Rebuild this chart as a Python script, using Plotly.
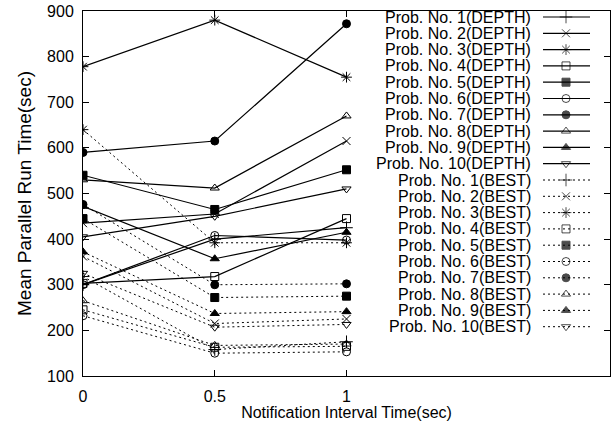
import plotly.graph_objects as go

# ---- data ----
x_vals = [0, 0.5, 1]
x_ticks = [0, 0.5, 1]
y_ticks = [100, 200, 300, 400, 500, 600, 700, 800, 900]

depth_names = [f"Prob. No. {i}(DEPTH)" for i in range(1, 11)]
best_names = [f"Prob. No. {i}(BEST)" for i in range(1, 11)]

depth_1 = [300, 400, 425]
depth_2 = [435, 455, 615]
depth_3 = [778, 880, 755]
depth_4 = [303, 318, 445]
depth_5 = [540, 465, 552]
depth_6 = [300, 408, 398]
depth_7 = [590, 615, 872]
depth_8 = [530, 512, 670]
depth_9 = [472, 357, 415]
depth_10 = [405, 450, 510]

best_1 = [318, 158, 175]
best_2 = [362, 215, 225]
best_3 = [640, 392, 392]
best_4 = [245, 163, 165]
best_5 = [445, 272, 275]
best_6 = [232, 150, 153]
best_7 = [476, 300, 302]
best_8 = [265, 167, 170]
best_9 = [372, 237, 241]
best_10 = [325, 207, 213]

depth_series = [depth_1, depth_2, depth_3, depth_4, depth_5,
                depth_6, depth_7, depth_8, depth_9, depth_10]
best_series = [best_1, best_2, best_3, best_4, best_5,
               best_6, best_7, best_8, best_9, best_10]

# ---- styles ----
symbols = ["cross-thin-open", "x-thin-open", "asterisk-open", "square-open", "square",
           "circle-open", "circle", "triangle-up-open", "triangle-up", "triangle-down-open"]
sizes = [9, 8, 9, 8, 8, 8, 8, 8, 8, 8]
FONT = "Liberation Sans, Arial, Helvetica, sans-serif"
BEST_DASH = "2px,3px"

fig = go.Figure()

def add_series(vals, sym, size, dash, width):
    fig.add_trace(go.Scatter(
        x=x_vals, y=vals, mode="lines+markers", showlegend=False,
        line=dict(color="black", width=width, dash=dash),
        marker=dict(symbol=sym, size=size, color="black",
                    line=dict(color="black", width=1)),
        xaxis="x", yaxis="y"))

for i, vals in enumerate(depth_series):
    add_series(vals, symbols[i], sizes[i], "solid", 1.2)
for i, vals in enumerate(best_series):
    add_series(vals, symbols[i], sizes[i], BEST_DASH, 1)

# ---- custom gnuplot-style legend (text on left, sample on right) ----
LEG_TEXT_RIGHT = 450      # in legend-axis units (px from plot left)
LEG_SAMPLE = [460, 483, 507]
LEG_TOP = 6
LEG_ROW = 16.3

names = depth_names + best_names
annotations = []
for k, name in enumerate(names):
    i = k % 10
    is_best = k >= 10
    yy = LEG_TOP + k * LEG_ROW
    fig.add_trace(go.Scatter(
        x=LEG_SAMPLE, y=[yy] * 3, mode="lines+markers", showlegend=False,
        line=dict(color="black", width=1 if is_best else 1.2,
                  dash=BEST_DASH if is_best else "solid"),
        marker=dict(symbol=symbols[i], size=[0, sizes[i], 0], color="black",
                    line=dict(color="black", width=1)),
        xaxis="x2", yaxis="y2", hoverinfo="skip"))
    annotations.append(dict(
        x=LEG_TEXT_RIGHT, y=yy, xref="x2", yref="y2", text=name,
        showarrow=False, xanchor="right", yanchor="middle",
        font=dict(family=FONT, size=16, color="black")))

axis_common = dict(showline=True, linecolor="black", linewidth=1, mirror="ticks",
                   ticks="inside", ticklen=6, tickcolor="black", showgrid=False,
                   zeroline=False, tickfont=dict(family=FONT, size=16, color="black"))

fig.update_layout(
    width=613, height=421,
    margin=dict(l=83, r=3, t=11, b=45),
    paper_bgcolor="white", plot_bgcolor="white",
    font=dict(family=FONT, size=16, color="black"),
    xaxis=dict(range=[0, 2], tickvals=x_ticks, ticktext=["0", "0.5", "1"],
               ticklabelstandoff=6,
               title=dict(text="Notification Interval Time(sec)",
                          font=dict(family=FONT, size=16), standoff=0),
               **axis_common),
    yaxis=dict(range=[100, 900], tickvals=y_ticks, ticklabelstandoff=5,
               title=dict(text="Mean Parallel Run Time(sec)",
                          font=dict(family=FONT, size=19), standoff=10),
               **axis_common),
    xaxis2=dict(overlaying="x", anchor="y2", range=[0, 527], visible=False),
    yaxis2=dict(overlaying="y", anchor="x2", range=[365, 0], visible=False),
    annotations=annotations,
)

fig.write_html("out.html")
